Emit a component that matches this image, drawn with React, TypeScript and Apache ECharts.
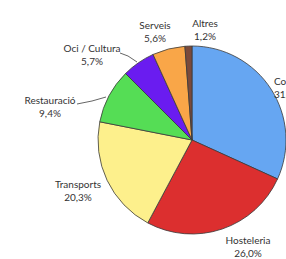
import React, { useEffect, useRef } from "react";
import * as echarts from "echarts";

const categories = ["Comerç", "Hosteleria", "Transports", "Restauració", "Oci / Cultura", "Serveis", "Altres"];
const values = [31.8, 26.0, 20.3, 9.4, 5.7, 5.6, 1.2];
const colors = ["#66a6f2", "#dc2f2f", "#fdf08c", "#55dd55", "#6a1cf0", "#f9a648", "#7b4a3a"];

// label anchor positions (text placement only)
const labelPos: Record<string, { x: number; y: number; align: string; line?: number[][] }> = {
  "Comerç": { x: 274, y: 87, align: "left" },
  "Hosteleria": { x: 248, y: 246, align: "center" },
  "Transports": { x: 78, y: 190, align: "center" },
  "Restauració": { x: 50, y: 106, align: "center", line: [[77, 104], [92, 101], [106, 97]] },
  "Oci / Cultura": { x: 92, y: 54, align: "center", line: [[120, 53], [128, 56], [137, 62]] },
  "Serveis": { x: 155, y: 31, align: "center" },
  "Altres": { x: 205, y: 29, align: "center" },
};

const fmt = (v: number) => v.toFixed(1).replace(".", ",") + "%";

export default function App() {
  const ref = useRef<HTMLDivElement>(null);
  useEffect(() => {
    if (!ref.current) return;
    const chart = echarts.init(ref.current, undefined, { renderer: "svg" });
    chart.setOption({
      animation: false,
      backgroundColor: "#ffffff",
      series: [
        {
          type: "pie",
          center: [192, 140],
          radius: 94,
          startAngle: 90,
          clockwise: true,
          avoidLabelOverlap: false,
          itemStyle: { borderColor: "#3a3a3a", borderWidth: 0.8 },
          label: {
            show: true,
            position: "outside",
            alignTo: "none",
            overflow: "none",
            bleedMargin: 0,
            formatter: (p: any) => `${p.name}\n${fmt(p.value)}`,
            fontFamily: "Lato",
            fontSize: 10,
            lineHeight: 13,
            color: "#333333",
          },
          labelLine: { show: true, lineStyle: { color: "#666666", width: 1 }, smooth: false },
          labelLayout: (params: any) => {
            const name = categories[params.dataIndex];
            const p = labelPos[name];
            const out: any = { x: p.x, y: p.y, align: p.align, verticalAlign: "middle", width: 80 };
            out.labelLinePoints = p.line ? p.line : [[p.x, p.y], [p.x, p.y], [p.x, p.y]];
            return out;
          },
          data: categories.map((c, i) => ({
            name: c,
            value: values[i],
            itemStyle: { color: colors[i] },
            labelLine: { show: !!labelPos[c].line },
          })),
        },
      ],
    });
    return () => chart.dispose();
  }, []);
  return (
    <div
      ref={ref}
      style={{ position: "fixed", left: 0, top: 0, width: 286, height: 259, background: "#fff" }}
    />
  );
}
